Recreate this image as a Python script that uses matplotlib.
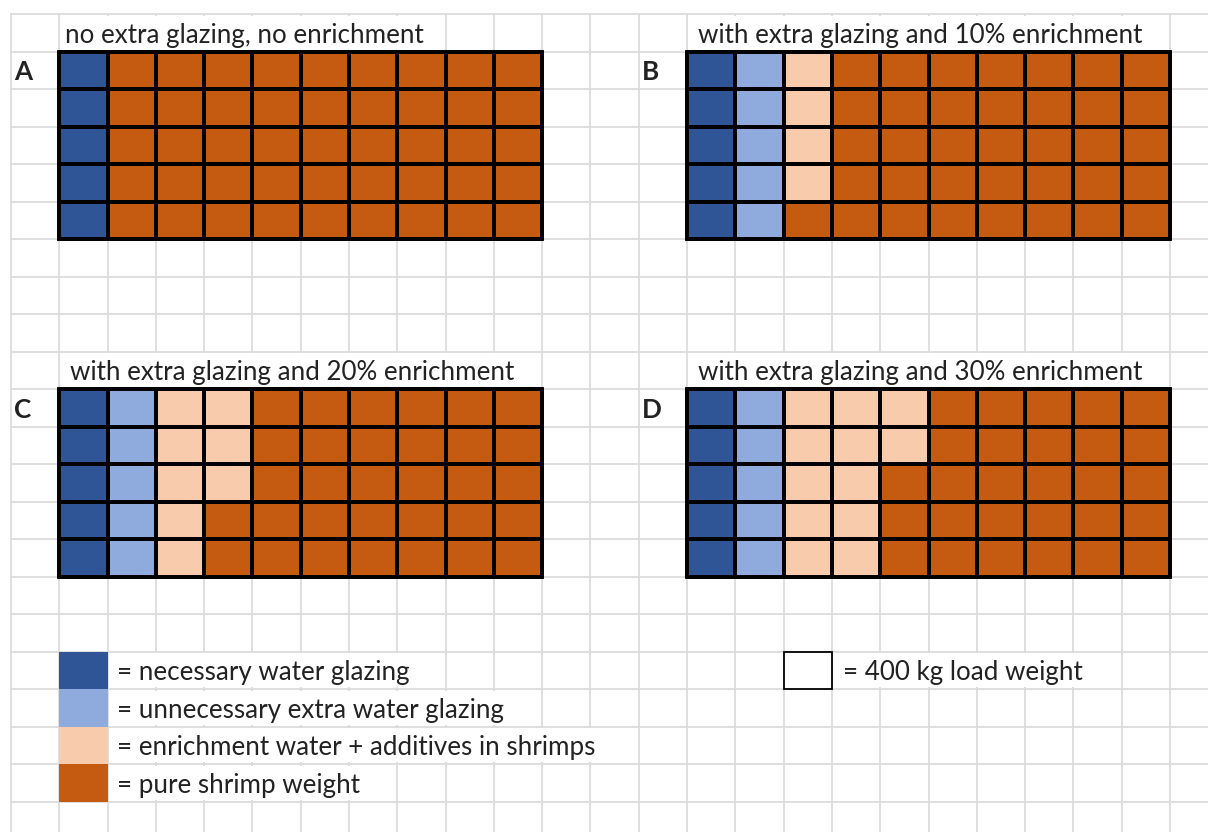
import numpy as np
import matplotlib
matplotlib.use("Agg")
import matplotlib.pyplot as plt
from matplotlib.colors import ListedColormap
from matplotlib.patches import Rectangle

# ---- data: number of 400 kg cells per category in each load (50 cells = 20 t) ----
panel_labels = ["A", "B", "C", "D"]
panel_titles = [
    "no extra glazing, no enrichment",
    "with extra glazing and 10% enrichment",
    "with extra glazing and 20% enrichment",
    "with extra glazing and 30% enrichment",
]
necessary_glazing = [5, 5, 5, 5]
extra_glazing = [0, 5, 5, 5]
enrichment = [0, 4, 8, 12]
pure_shrimp = [45, 36, 32, 28]

legend_texts = [
    "= necessary water glazing",
    "= unnecessary extra water glazing",
    "= enrichment water + additives in shrimps",
    "= pure shrimp weight",
]
unit_text = "= 400 kg load weight"

category_colors = ["#2F5597", "#8FAADC", "#F8CBAD", "#C55A11"]

# ---- sheet geometry (cell units) ----
W, H, DPI = 1208, 832, 100
X0_PX, CW_PX = 11, 48.29
Y0_PX, RH_PX = 14, 37.5
N_ROWS_BLOCK, N_COLS_BLOCK = 5, 10

panel_origin = [(1, 1), (14, 1), (1, 10), (14, 10)]  # (col, row) of each block
title_x_px = [65, 698, 70, 698]
label_cols = [0, 13, 0, 13]
label_x_pad_px = 3

FONT = ["Lato", "DejaVu Sans"]
TXT = "#222222"
FS = 18.7

fig = plt.figure(figsize=(W / DPI, H / DPI), dpi=DPI)
ax = fig.add_axes([0, 0, 1, 1])
ax.set_xlim(-X0_PX / CW_PX, (W - X0_PX) / CW_PX)
ax.set_ylim((H - Y0_PX) / RH_PX, -Y0_PX / RH_PX)
ax.axis("off")

def px_to_col(px):
    return (px - X0_PX) / CW_PX

xmax = ax.get_xlim()[1]
ymax = ax.get_ylim()[0]

# light spreadsheet gridlines
grid_kw = dict(color="#dcdcdc", lw=1.3, zorder=1)
for c in range(0, int(xmax) + 1):
    ax.plot([c, c], [0, ymax], **grid_kw)
for r in range(0, int(ymax) + 1):
    ax.plot([0, xmax], [r, r], **grid_kw)

# cells where overflowing text hides the vertical gridlines: (row, col_start, col_end)
text_spans = [(0, 1, 9), (0, 14, 24), (9, 1, 11), (9, 14, 24),
              (17, 2, 9), (18, 2, 11), (19, 2, 13), (20, 2, 8), (17, 17, 23)]
for r, c0, c1 in text_spans:
    ax.add_patch(Rectangle((c0 + 0.03, r + 0.05), c1 - c0 - 0.06, 0.9,
                           facecolor="white", edgecolor="none", zorder=2))

cmap = ListedColormap(category_colors)

def block_matrix(i):
    counts = [necessary_glazing[i], extra_glazing[i], enrichment[i], pure_shrimp[i]]
    seq = np.repeat(np.arange(len(counts)), counts)
    # cells fill column by column, top to bottom
    return seq.reshape(N_COLS_BLOCK, N_ROWS_BLOCK).T

baseline_off = 1 - 8.7 / RH_PX
for i, (c0, r0) in enumerate(panel_origin):
    mat = block_matrix(i)
    xe = np.arange(c0, c0 + N_COLS_BLOCK + 1)
    ye = np.arange(r0, r0 + N_ROWS_BLOCK + 1)
    ax.pcolormesh(xe, ye, mat, cmap=cmap, vmin=-0.5, vmax=3.5,
                  edgecolors="black", linewidth=1.5, zorder=3)
    ax.add_patch(Rectangle((c0, r0), N_COLS_BLOCK, N_ROWS_BLOCK, fill=False,
                           edgecolor="black", lw=2.8, zorder=4))
    ax.text(px_to_col(title_x_px[i]), r0 - 1 + baseline_off, panel_titles[i],
            fontsize=FS, family=FONT, color=TXT, va="baseline", ha="left", zorder=5)
    ax.text(label_cols[i] + label_x_pad_px / CW_PX, r0 + baseline_off, panel_labels[i],
            fontsize=FS, family=FONT, fontweight="bold", color=TXT,
            va="baseline", ha="left", zorder=5)

# legend swatches and texts
legend_row0 = 17
for k, (col, txt) in enumerate(zip(category_colors, legend_texts)):
    r = legend_row0 + k
    ax.add_patch(Rectangle((1, r), 1, 1, facecolor=col, edgecolor="none", zorder=3))
    ax.text(px_to_col(117), r + baseline_off, txt, fontsize=FS, family=FONT,
            color=TXT, va="baseline", ha="left", zorder=5)

ax.add_patch(Rectangle((16, legend_row0), 1, 1, facecolor="white",
                       edgecolor="black", lw=1.3, zorder=3))
ax.text(px_to_col(843), legend_row0 + baseline_off, unit_text, fontsize=FS,
        family=FONT, color=TXT, va="baseline", ha="left", zorder=5)

fig.savefig("out.png", dpi=DPI, facecolor="white")
